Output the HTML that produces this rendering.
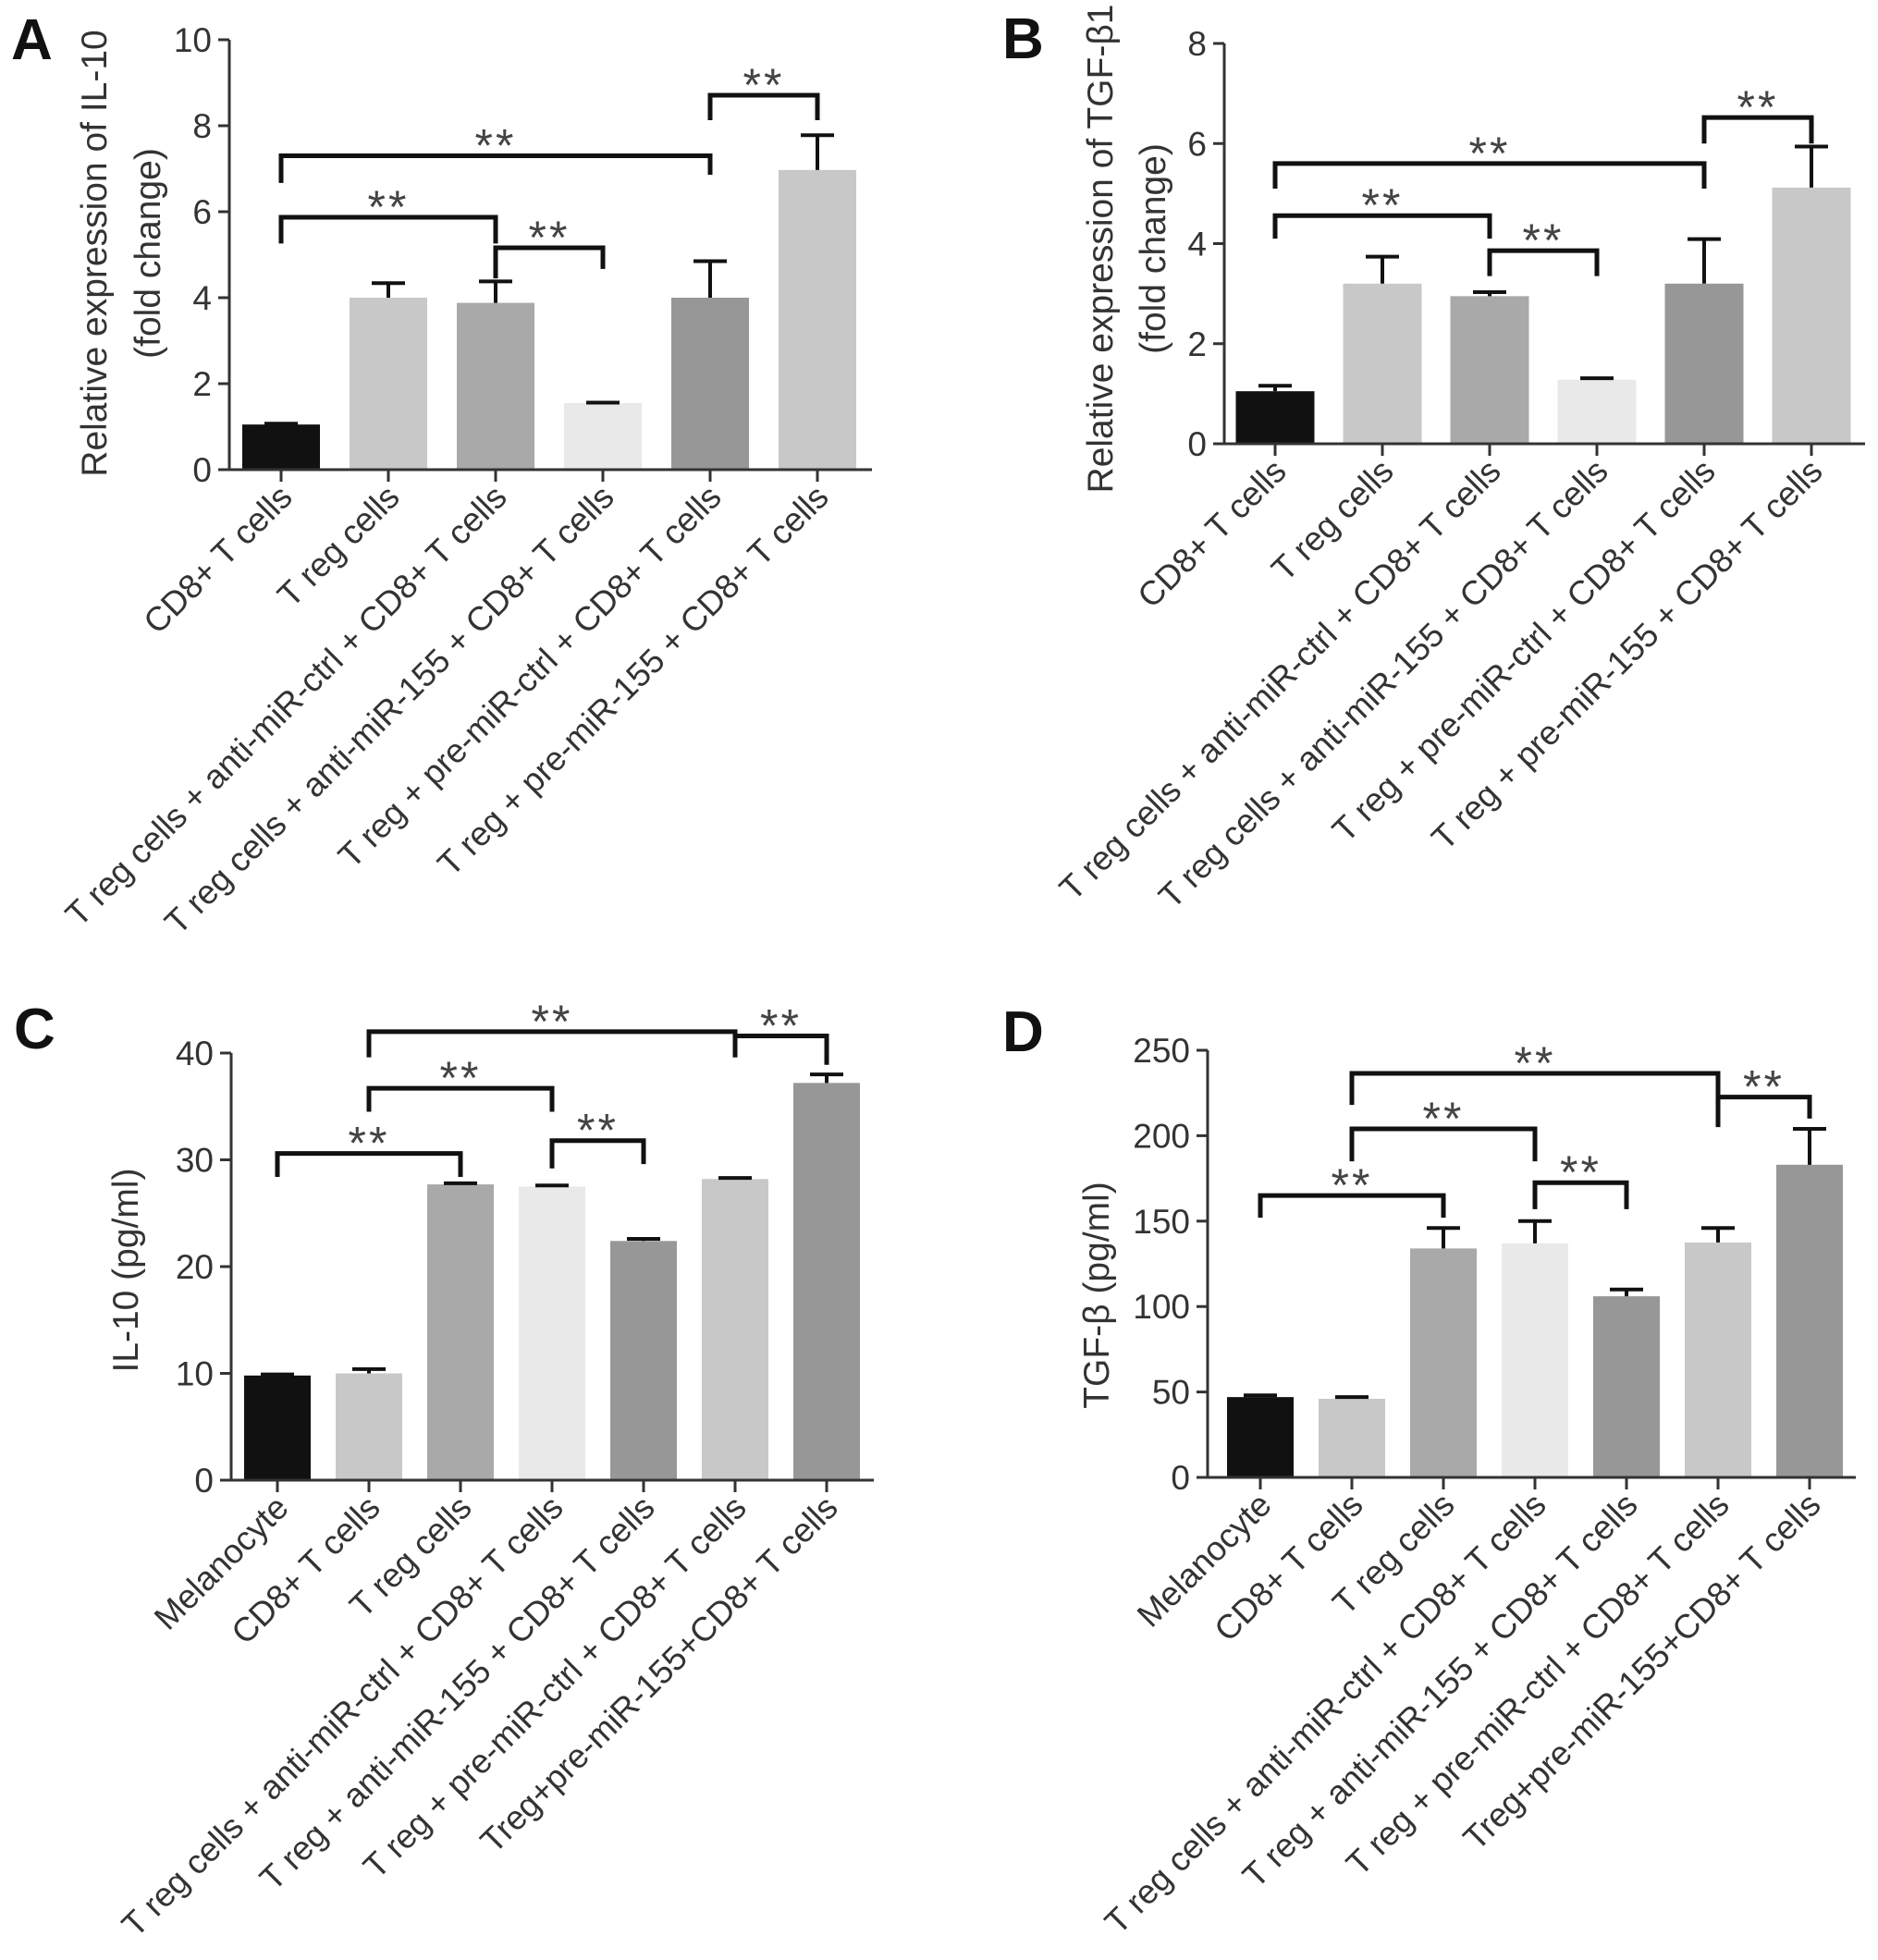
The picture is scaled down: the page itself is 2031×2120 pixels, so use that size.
<!DOCTYPE html>
<html><head><meta charset="utf-8"><style>
html,body{margin:0;padding:0;background:#fff;}
svg{display:block;font-family:"Liberation Sans",Arial,sans-serif;}
</style></head><body>
<svg id="fig" width="2031" height="2120" viewBox="0 0 2031 2120" xmlns="http://www.w3.org/2000/svg"></svg>
<script>
// ---- Panel A data ----
const catsA = ["CD8+ T cells","T reg cells","T reg cells + anti-miR-ctrl + CD8+ T cells","T reg cells + anti-miR-155 + CD8+ T cells","T reg + pre-miR-ctrl + CD8+ T cells","T reg + pre-miR-155 + CD8+ T cells"];
const valsA = [1.05, 4.0, 3.88, 1.55, 4.0, 6.97];
const errA  = [0.02, 0.34, 0.5, 0.01, 0.85, 0.81];
const ticksA = [0,2,4,6,8,10];
// ---- Panel B data ----
const catsB = catsA;
const valsB = [1.05, 3.2, 2.95, 1.28, 3.2, 5.12];
const errB  = [0.11, 0.54, 0.08, 0.03, 0.89, 0.82];
const ticksB = [0,2,4,6,8];
// ---- Panel C data ----
const catsC = ["Melanocyte","CD8+ T cells","T reg cells","T reg cells + anti-miR-ctrl + CD8+ T cells","T reg + anti-miR-155 + CD8+ T cells","T reg + pre-miR-ctrl + CD8+ T cells","Treg+pre-miR-155+CD8+ T cells"];
const valsC = [9.8, 10.0, 27.7, 27.5, 22.4, 28.2, 37.2];
const errC  = [0.1, 0.4, 0.1, 0.1, 0.2, 0.1, 0.8];
const ticksC = [0,10,20,30,40];
// ---- Panel D data ----
const catsD = catsC;
const valsD = [47, 46, 134, 137, 106, 137.5, 183];
const errD  = [1, 1, 12, 13, 4, 8.5, 21];
const ticksD = [0,50,100,150,200,250];

const fillsA = ["#111111","#c8c8c8","#a9a9a9","#e9e9e9","#979797","#c8c8c8"];
const fillsC = ["#111111","#c8c8c8","#a9a9a9","#e9e9e9","#979797","#c8c8c8","#979797"];

// brackets: [i, j, y, leftLegBottom, rightLegBottom] in data units
const brA = [[0,2,5.87,5.26,5.26],[0,4,7.3,6.67,6.86],[2,3,5.16,4.45,4.67],[4,5,8.71,8.13,8.13]];
const brB = [[0,2,4.56,4.1,4.1],[0,4,5.6,5.1,5.1],[2,3,3.86,3.35,3.35],[4,5,6.52,6.0,6.0]];
const brC = [[0,2,30.6,28.4,28.4],[1,3,36.7,34.5,34.5],[1,5,42.0,39.6,39.6],[3,4,31.8,29.2,29.6],[5,6,41.6,39.6,38.9]];
const brD = [[0,2,165,152,152],[1,3,204,185,185],[1,5,236.5,218,218],[3,4,172.5,157,157],[5,6,222.6,205,210]];

const NS="http://www.w3.org/2000/svg";
const svg=document.getElementById('fig');
function mk(tag,attrs,parent){const e=document.createElementNS(NS,tag);for(const k in attrs)e.setAttribute(k,attrs[k]);(parent||svg).appendChild(e);return e;}

function panel(p){
  const g=mk('g',{});
  
  
  const ymax=p.ticks[p.ticks.length-1];
  const Y=v=>p.y0-(v/ymax)*(p.y0-p.ytop);
  const X=i=>p.x1+i*p.step;
  const L=mk('text',{x:p.lx,y:p.ly,'font-size':62,'font-weight':'bold',fill:'#111'},g);
  L.textContent=p.id;
  
  
  p.vals.forEach((v,i)=>{
    const r=mk('rect',{x:X(i)-p.bw/2,y:Y(v),width:p.bw,height:p.y0-Y(v),fill:p.fills[i]},g);
    
    
    const t=Y(v+p.err[i]);
    const eb=mk('path',{d:`M${X(i)},${Y(v)}V${t}M${X(i)-18},${t}H${X(i)+18}`,stroke:'#111','stroke-width':4,fill:'none'},g);
    
    
  });
  const ax=mk('path',{d:`M${p.ax},${p.ytop}V${p.y0}H${p.xend}`,stroke:'#333','stroke-width':3,fill:'none'},g);
  
  
  p.ticks.forEach(t=>{
    mk('line',{x1:p.ax-12,x2:p.ax,y1:Y(t),y2:Y(t),stroke:'#333','stroke-width':3},g);
    const tl=mk('text',{x:p.ax-19,y:Y(t)+13,'font-size':37,'text-anchor':'end',fill:'#333'},g);
    tl.textContent=t;
    
    
  });
  p.cats.forEach((c,i)=>{
    mk('line',{x1:X(i),x2:X(i),y1:p.y0,y2:p.y0+13,stroke:'#333','stroke-width':3},g);
    const ex=X(i)+14, ey=p.y0+32;
    const cl=mk('text',{x:ex,y:ey,'font-size':36.5,'text-anchor':'end',fill:'#333',transform:`rotate(-45 ${ex} ${ey})`},g);
    cl.textContent=c;
    
    
  });
  p.titles.forEach(tt=>{
    const yt=mk('text',{x:tt[1],y:tt[2],'font-size':39,'text-anchor':'middle',fill:'#333',transform:`rotate(-90 ${tt[1]} ${tt[2]})`},g);
    yt.textContent=tt[0];
    
    
  });
  p.br.forEach(b=>{
    const xa=X(b[0]),xb=X(b[1]),yy=Y(b[2]);
    const bp=mk('path',{d:`M${xa},${Y(b[3])}V${yy}H${xb}V${Y(b[4])}`,stroke:'#111','stroke-width':5,fill:'none'},g);
    
    
    const st=mk('text',{x:(xa+xb)/2,y:yy+6,'font-size':50,'text-anchor':'middle',fill:'#444','letter-spacing':3},g);
    st.textContent='**';
    
    
  });
}

panel({id:'A',cats:catsA,vals:valsA,err:errA,ticks:ticksA,fills:fillsA,br:brA,
  ax:248,ytop:43,y0:508,xend:943,x1:304,step:116,bw:84,lx:12,ly:64,
  titles:[["Relative expression of IL-10",115,274],["(fold change)",173,274]]});
panel({id:'B',cats:catsB,vals:valsB,err:errB,ticks:ticksB,fills:fillsA,br:brB,
  ax:1324,ytop:47,y0:480,xend:2017,x1:1379,step:116,bw:85,lx:1084,ly:63,
  titles:[["Relative expression of TGF-β1",1203,269],["(fold change)",1260,269]]});
panel({id:'C',cats:catsC,vals:valsC,err:errC,ticks:ticksC,fills:fillsC,br:brC,
  ax:250,ytop:1139,y0:1601,xend:945,x1:300,step:99,bw:72,lx:15,ly:1134,
  titles:[["IL-10 (pg/ml)",149,1374]]});
panel({id:'D',cats:catsD,vals:valsD,err:errD,ticks:ticksD,fills:fillsC,br:brD,
  ax:1306,ytop:1136,y0:1598,xend:2007,x1:1363,step:99,bw:72,lx:1084,ly:1137,
  titles:[["TGF-β (pg/ml)",1199,1401]]});
</script>
</body></html>
